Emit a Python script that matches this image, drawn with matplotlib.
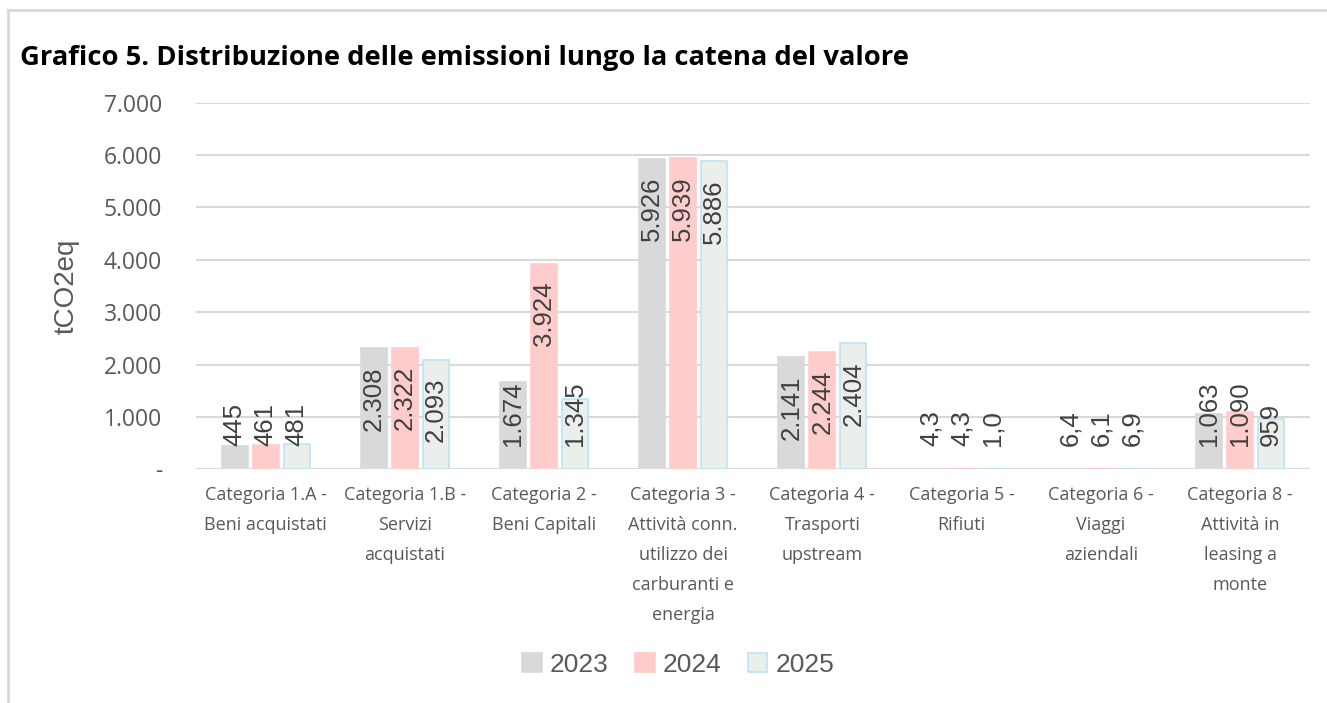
import matplotlib
matplotlib.use("Agg")
import matplotlib.pyplot as plt
import numpy as np
from matplotlib.lines import Line2D
from matplotlib.patches import Patch
from matplotlib.ticker import FuncFormatter, MultipleLocator

# ---------------- data ----------------
categories = [
    "Categoria 1.A -\nBeni acquistati",
    "Categoria 1.B -\nServizi\nacquistati",
    "Categoria 2 -\nBeni Capitali",
    "Categoria 3 -\nAttività conn.\nutilizzo dei\ncarburanti e\nenergia",
    "Categoria 4 -\nTrasporti\nupstream",
    "Categoria 5 -\nRifiuti",
    "Categoria 6 -\nViaggi\naziendali",
    "Categoria 8 -\nAttività in\nleasing a\nmonte",
]
years = ["2023", "2024", "2025"]
v2023 = [445, 2308, 1674, 5926, 2141, 4.3, 6.4, 1063]
v2024 = [461, 2322, 3924, 5939, 2244, 4.3, 6.1, 1090]
v2025 = [481, 2093, 1345, 5886, 2404, 1.0, 6.9, 959]
series = [v2023, v2024, v2025]

title = "Grafico 5. Distribuzione delle emissioni lungo la catena del valore"
ylabel = "tCO2eq"

face_colors = ["#D9D9D9", "#FFCCCC", "#EAEFEC"]
edge_colors = ["#D9D9D9", "#FFCCCC", "#BFE3F2"]
text_grey = "#595959"
label_col = "#404040"


def fmt_thousands(v):
    return f"{int(round(v)):,}".replace(",", ".")


def fmt_label(v):
    if v < 10:
        return f"{v:.1f}".replace(".", ",")
    return fmt_thousands(v)


def fmt_tick(v, pos):
    if abs(v) < 1e-9:
        return "-"
    return fmt_thousands(v)


W, H = 1327, 703
fig = plt.figure(figsize=(W / 100, H / 100), dpi=100)
fig.patch.set_facecolor("white")

left_px, right_px, top_px, bot_px = 196, 1309.6, 102.7, 469.3
ax_w = right_px - left_px
ax = fig.add_axes([left_px / W, 1 - bot_px / H, ax_w / W, (bot_px - top_px) / H])

n = len(categories)
x = np.arange(n)
bw = 0.187
pitch = 0.223
label_font = "Liberation Sans"
cat_font = "Open Sans"

bars_all = []
for i, (vals, fc, ec, yr) in enumerate(zip(series, face_colors, edge_colors, years)):
    xs = x + (i - 1) * pitch
    ax.bar(xs, vals, width=bw, color=fc, edgecolor=ec, linewidth=1.2, label=yr, zorder=3)
    bars_all.append((xs, vals))

ax.set_xlim(-0.5, n - 0.5)
ax.set_ylim(0, 7000)
ax.yaxis.set_major_locator(MultipleLocator(1000))
ax.yaxis.set_major_formatter(FuncFormatter(fmt_tick))
ax.grid(axis="y", color="#D9D9D9", linewidth=1.5, zorder=0)
ax.set_axisbelow(True)
for s in ax.spines.values():
    s.set_visible(False)
ax.tick_params(axis="both", length=0)
ax.tick_params(axis="y", pad=24.5, labelsize=16.5, labelcolor=text_grey)
for t in ax.get_yticklabels():
    t.set_fontfamily(cat_font)

ax.set_xticks(x)
ax.set_xticklabels(categories, fontsize=13, color=text_grey, fontfamily=cat_font,
                   linespacing=1.85, va="top")
ax.tick_params(axis="x", pad=12)

ax.set_ylabel(ylabel, fontsize=20, color=text_grey, fontfamily=label_font)
ax.yaxis.set_label_coords(-(left_px - 80) / ax_w, 0.5)

# data labels
fig.canvas.draw()
renderer = fig.canvas.get_renderer()
px_per_unit = (bot_px - top_px) / 7000.0
for xs, vals in bars_all:
    for xi, v in zip(xs, vals):
        t = ax.annotate(fmt_label(v), xy=(xi, 0), xytext=(0, 23), textcoords="offset pixels",
                        rotation=90, ha="center", va="bottom", fontsize=18.5,
                        color=label_col, fontfamily=label_font, zorder=4)
        L = t.get_window_extent(renderer).height
        h = v * px_per_unit
        bottom = max(h - 18 - L, 23)
        t.xyann = (0, bottom)

# legend
handles = [Patch(facecolor=fc, edgecolor=ec, linewidth=1.2) for fc, ec in zip(face_colors, edge_colors)]
leg = fig.legend(handles, years, loc="center", bbox_to_anchor=(678 / W, 1 - 665 / H), ncol=3,
                 frameon=False, handlelength=0.75, handleheight=0.75, handletextpad=0.3,
                 columnspacing=1.0, prop={"family": label_font, "size": 19})
for t in leg.get_texts():
    t.set_color(text_grey)

# title
fig.text(20 / W, 1 - 58 / H, title, fontsize=19.7, fontweight="bold", color="black",
         fontfamily=cat_font, ha="left", va="center")

# frame lines
fig.add_artist(Line2D([8 / W, 8 / W], [0, 1 - 10 / H], color="#D9D9D9", linewidth=2))
fig.add_artist(Line2D([8 / W, 1], [1 - 10 / H, 1 - 10 / H], color="#D9D9D9", linewidth=2))

fig.savefig("out.png", dpi=100)
